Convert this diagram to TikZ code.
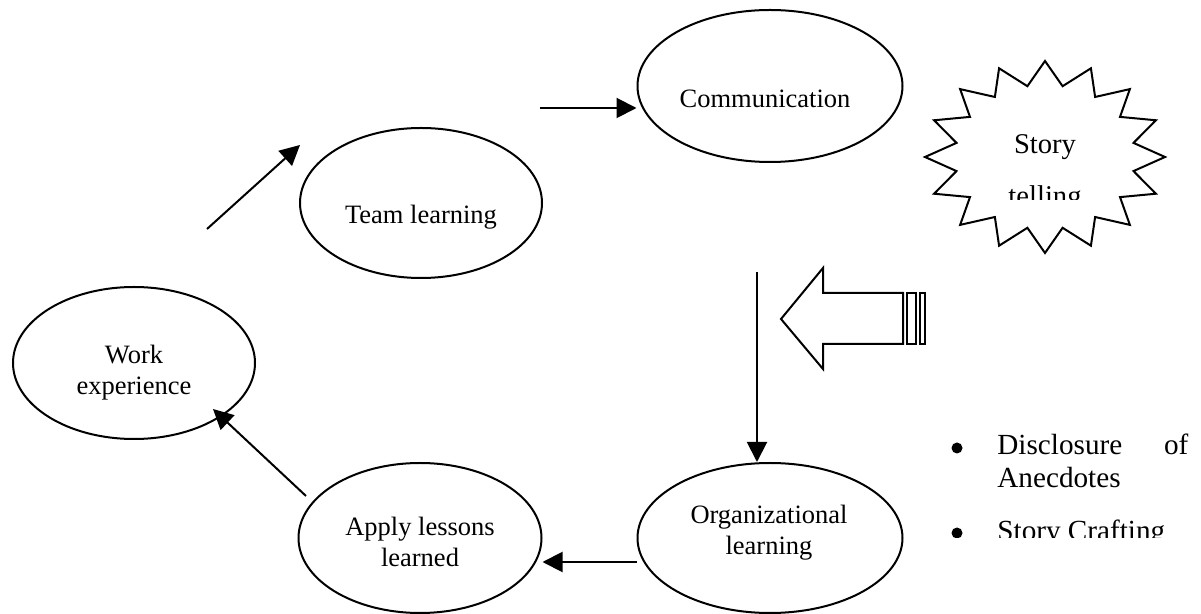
\documentclass[tikz,border=0pt]{standalone}
\usepackage{fontspec}
\setmainfont{Liberation Serif}
\usepackage{tikz}
\usetikzlibrary{shapes.geometric, arrows.meta, positioning}

\tikzset{
 blob/.style={ellipse, draw, line width=1pt, inner sep=0pt},
 txt/.style={anchor=base, align=center, inner sep=0pt, font=\fontsize{13.25}{15.5}\selectfont},
 bigtxt/.style={anchor=base, align=center, inner sep=0pt, font=\fontsize{14.3}{26}\selectfont},
 bultxt/.style={anchor=base west, inner sep=0pt, font=\fontsize{14.6}{16.5}\selectfont},
 dot/.style={circle, fill, inner sep=0pt, minimum size=5.5pt},
 arr/.style={-{Triangle[length=10pt,width=10pt]}, line width=1pt},
 burst/.style={star, star points=16, star point ratio=1.33, draw, line width=1pt, minimum size=96pt, inner sep=0pt, xscale=1.25},
}

\begin{document}
\begin{tikzpicture}[x=0.5pt, y=-0.5pt]
\useasboundingbox (0,0) rectangle (1201,614);
\node[blob, minimum width=121pt, minimum height=76pt] (work) at (134,363) {};
\node[blob, minimum width=121pt, minimum height=75pt] (team) at (421,203) {};
\node[blob, minimum width=132.5pt, minimum height=76pt] (comm) at (770,86) {};
\node[blob, minimum width=132.5pt, minimum height=75pt] (org) at (770,538) {};
\node[blob, minimum width=121.5pt, minimum height=75pt] (apply) at (420,538) {};
\node[txt] (worktxt) at (134,395) {Work\\experience};
\node[txt] (teamtxt) at (421,224) {Team learning};
\node[txt] (commtxt) at (765,108) {Communication};
\node[txt] (orgtxt) at (769,555) {Organizational\\learning};
\node[txt] (applytxt) at (420,567) {Apply lessons\\learned};
\coordinate (w1) at (207,229);
\coordinate (t1) at (300,145);
\coordinate (c1) at (540,108);
\coordinate (o1) at (757,272);
\coordinate (o2) at (637,562);
\coordinate (a1) at (306,496);
\coordinate (w2) at (213,409);
\draw[arr] (w1) -- (t1);
\draw[arr] (c1) -- (comm.west |- c1);
\draw[arr] (o1) -- (org.north -| o1);
\draw[arr] (o2) -- (apply.east |- o2);
\draw[arr] (a1) -- (w2);
\draw[line width=1pt] (781,319) -- (823,268) -- (823,293) -- (903,293) -- (903,344)
  -- (823,344) -- (823,369) -- cycle;
\draw[line width=1pt] (907,293) rectangle (916,344) (920,293) rectangle (925,344);
\node[burst] (story) at (1045,157) {};
\begin{scope}
\clip (990,100) rectangle (1100,200);
\node[bigtxt] (storytxt) at (1045,206) {Story\\telling};
\end{scope}
\begin{scope}
\clip (930,420) rectangle (1201,538);
\node[dot] (k1) at (957,448) {};
\node[dot] (k2) at (957,533) {};
\node[bultxt] (d1) at (997,455) {\makebox[95.5pt][s]{Disclosure of}};
\node[bultxt] (d2) at (997,488) {Anecdotes};
\node[bultxt] (d3) at (997,541) {Story Crafting};
\end{scope}
\end{tikzpicture}
\end{document}
